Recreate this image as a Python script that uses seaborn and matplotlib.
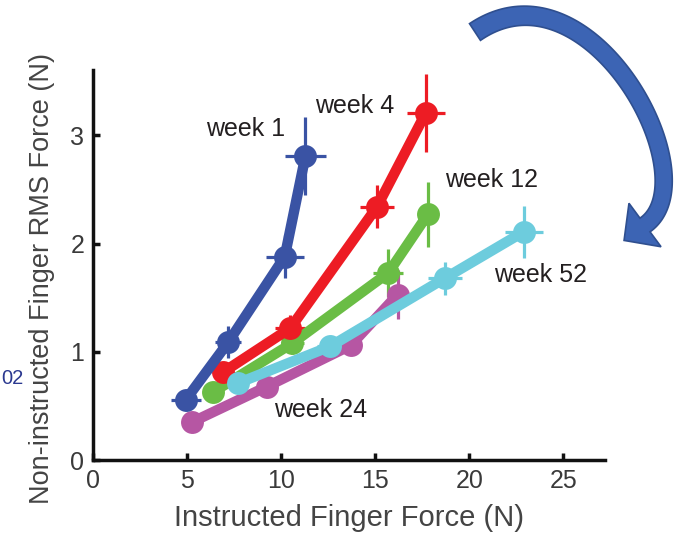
import matplotlib
matplotlib.use("Agg")
import matplotlib.pyplot as plt
import seaborn as sns
import pandas as pd
import numpy as np
from matplotlib.patches import Polygon

# ---- data ----
weeks = ["week 1", "week 4", "week 12", "week 24", "week 52"]
w1_x = [4.95, 7.2, 10.2, 11.3]
w1_y = [0.56, 1.09, 1.88, 2.81]
w1_xerr = [0.8, 0.7, 1.0, 1.1]
w1_yerr = [0.05, 0.15, 0.2, 0.36]

w4_x = [6.9, 10.5, 15.1, 17.7]
w4_y = [0.81, 1.22, 2.34, 3.21]
w4_xerr = [0.5, 0.8, 0.9, 1.0]
w4_yerr = [0.08, 0.12, 0.2, 0.36]

w12_x = [6.4, 10.6, 15.7, 17.8]
w12_y = [0.63, 1.08, 1.73, 2.27]
w12_xerr = [0.4, 0.6, 0.8, 0.5]
w12_yerr = [0.05, 0.1, 0.22, 0.3]

w24_x = [5.25, 9.25, 13.7, 16.2]
w24_y = [0.35, 0.68, 1.06, 1.53]
w24_xerr = [0.2, 0.3, 0.4, 0.3]
w24_yerr = [0.03, 0.05, 0.08, 0.23]

w52_x = [7.7, 12.6, 18.7, 22.9]
w52_y = [0.71, 1.05, 1.68, 2.11]
w52_xerr = [0.5, 0.7, 0.9, 1.0]
w52_yerr = [0.05, 0.08, 0.15, 0.24]

x_ticks = [0, 5, 10, 15, 20, 25]
y_ticks = [0, 1, 2, 3]

colors = {"week 1": "#3A53A4", "week 4": "#ED1C24", "week 12": "#6ABD45",
          "week 24": "#B656A3", "week 52": "#6DCCDD"}
series = {
    "week 1": (w1_x, w1_y, w1_xerr, w1_yerr),
    "week 4": (w4_x, w4_y, w4_xerr, w4_yerr),
    "week 12": (w12_x, w12_y, w12_xerr, w12_yerr),
    "week 24": (w24_x, w24_y, w24_xerr, w24_yerr),
    "week 52": (w52_x, w52_y, w52_xerr, w52_yerr),
}
label_pos = {"week 1": (8.1, 3.06), "week 4": (13.9, 3.27), "week 12": (21.2, 2.59),
             "week 52": (23.8, 1.71), "week 24": (12.1, 0.46)}

sns.set_theme(style="white")
plt.rcParams['font.family'] = ['Liberation Sans', 'DejaVu Sans']

W, H = 692, 537
fig = plt.figure(figsize=(W / 100, H / 100), dpi=100)
ax = fig.add_axes([0.134, 0.143, 0.74, 0.726])

draw_order = ["week 24", "week 12", "week 4", "week 1", "week 52"]
for w in draw_order:
    xs, ys, xe, ye = series[w]
    df = pd.DataFrame({"x": xs, "y": ys})
    c = colors[w]
    ax.errorbar(xs, ys, xerr=xe, yerr=ye, fmt="none", ecolor=c, elinewidth=2.3, capsize=0, zorder=2)
    sns.lineplot(data=df, x="x", y="y", ax=ax, color=c, sort=False, linewidth=7.5,
                 marker="o", markersize=16.5, markeredgewidth=0, zorder=3)

for w, (tx, ty) in label_pos.items():
    ax.text(tx, ty, w, ha="center", va="center", fontsize=18, color="#231F20")

ax.set_xlim(0, 27.2)
ax.set_ylim(0, 3.6)
ax.set_xticks(x_ticks)
ax.set_yticks(y_ticks)
ax.set_xticklabels([str(t) for t in x_ticks])
ax.set_yticklabels([str(t) for t in y_ticks])
for s in ["top", "right"]:
    ax.spines[s].set_visible(False)
for s in ["left", "bottom"]:
    ax.spines[s].set_color("#111111")
    ax.spines[s].set_linewidth(2.5)
ax.tick_params(direction="in", length=5, width=2.5, colors="#111111", labelsize=18,
               labelcolor="#3a3a3a", pad=6, left=True, bottom=True)
ax.set_xlabel("Instructed Finger Force (N)", fontsize=21, color="#444444", labelpad=8)
ax.set_ylabel("Non-instructed Finger RMS Force (N)", fontsize=19.5, color="#444444")
ax.yaxis.set_label_coords(-0.074, 0.465)
ax.grid(False)

fig.text(0.002, 1 - 378 / H, "02", fontsize=14.5, color="#2B3990", ha="left", va="center")

# ---- curved block arrow (decoration), built in image pixel coords ----
P0 = np.array([475.0, 32.0]); P1 = np.array([590.0, -46.0])
P2 = np.array([711.0, 179.0]); P3 = np.array([645.0, 225.0])
t = np.linspace(0, 1, 120)[:, None]
pts = (1 - t) ** 3 * P0 + 3 * (1 - t) ** 2 * t * P1 + 3 * (1 - t) * t ** 2 * P2 + t ** 3 * P3
d = np.gradient(pts, axis=0)
d /= np.linalg.norm(d, axis=1)[:, None]
nrm = np.column_stack([-d[:, 1], d[:, 0]])
half = (10.0 - 3.0 * t[:, 0] + 1.5 * t[:, 0] ** 2)[:, None]
left = pts + nrm * half
right = pts - nrm * half
dend = d[-1]; nend = nrm[-1]
tip = P3 + dend * 26
w1 = P3 + nend * 27
w2 = P3 - nend * 27
poly = np.vstack([left, w1, tip, w2, right[::-1]])
poly_fig = np.column_stack([poly[:, 0] / W, 1 - poly[:, 1] / H])
fig.add_artist(Polygon(poly_fig, closed=True, transform=fig.transFigure,
                       facecolor="#3C64B4", edgecolor="#2F4F8F", linewidth=1.2))

fig.savefig("out.png", dpi=100)
